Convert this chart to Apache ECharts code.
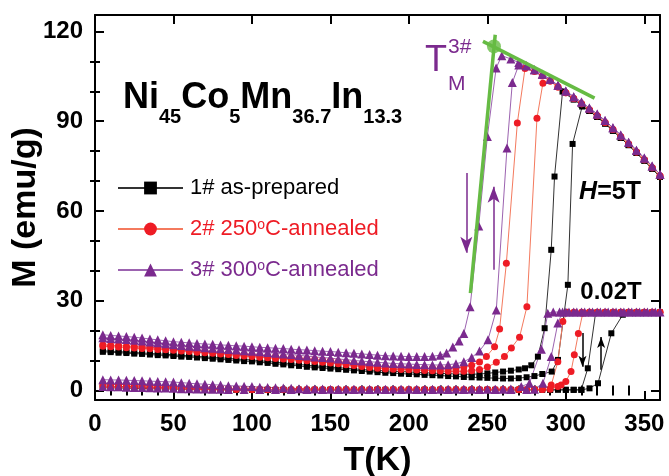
<!DOCTYPE html>
<html><head><meta charset="utf-8">
<script src="https://cdn.jsdelivr.net/npm/echarts@6/dist/echarts.min.js"></script>
<style>html,body{margin:0;padding:0;background:#fff}#c{width:669px;height:476px}</style>
</head><body><div id="c"></div>
<script>
const FONT = "'Liberation Sans', Arial, sans-serif";
const N1 = '1# as-prepared', N2 = '2# 250°C-annealed', N3 = '3# 300°C-annealed';
const X_MAJOR = [0,50,100,150,200,250,300,350];
const X_MINOR = [10,20,30,40,60,70,80,90,110,120,130,140,160,170,180,190,210,220,230,240,260,270,280,290,310,320,330,340];
const Y_MAJOR = [0,30,60,90,120];
const Y_MINOR = [10,20,40,50,70,80,100,110];

// 5 T, sample 1#
const bk5c = [[5,13.3],[10,13.1],[15,13.0],[20,12.8],[25,12.7],[30,12.5],[35,12.4],[40,12.2],[45,12.1],[50,11.9],[55,11.7],[60,11.6],[65,11.4],[70,11.2],[75,11.0],[80,10.9],[85,10.7],[90,10.5],[95,10.3],[100,10.2],[105,9.9],[110,9.7],[115,9.4],[120,9.2],[125,8.9],[130,8.7],[135,8.4],[140,8.2],[145,8.0],[150,7.8],[155,7.6],[160,7.4],[165,7.2],[170,7.0],[175,6.8],[180,6.7],[185,6.5],[190,6.4],[195,6.3],[200,6.2],[205,6.0],[210,5.9],[215,5.8],[220,5.7],[225,5.6],[230,5.5],[235,5.4],[240,5.4],[245,5.5],[250,5.7],[255,6.0],[260,6.3],[265,6.6],[270,7.0],[274,7.4],[278,8.4],[282.2,11.3],[286.5,20.8],[290.7,47],[292.8,71.5],[297.9,99.9],[305,97.2],[310,95.4],[315,93.4],[320,91.4],[325,89.2],[330,86.8],[335,84.4],[340,82.0],[345,79.4],[350,76.8],[355,74.1],[360,71.4]];
const bk5h = [[5,12.9],[10,12.8],[15,12.6],[20,12.5],[25,12.3],[30,12.2],[35,12.0],[40,11.8],[45,11.7],[50,11.5],[55,11.3],[60,11.2],[65,11.0],[70,10.8],[75,10.6],[80,10.4],[85,10.2],[90,10.0],[95,9.8],[100,9.7],[105,9.4],[110,9.2],[115,8.9],[120,8.7],[125,8.4],[130,8.2],[135,7.9],[140,7.7],[145,7.5],[150,7.3],[155,7.1],[160,6.9],[165,6.7],[170,6.5],[175,6.3],[180,6.1],[185,5.9],[190,5.8],[195,5.6],[200,5.5],[205,5.4],[210,5.2],[215,5.1],[220,5.0],[225,4.8],[230,4.7],[235,4.5],[240,4.4],[245,4.3],[250,4.2],[255,4.1],[260,4.0],[265,4.0],[270,4.1],[275,4.4],[280,4.8],[285,5.5],[291,6.3],[295,10.2],[301.3,35.3],[304.3,82.4],[310.4,94.9],[315,93.4],[320,91.4],[325,89.2],[330,86.8],[335,84.4],[340,82.0],[345,79.4],[350,76.8],[355,74.1],[360,71.4]];
// 0.02 T, sample 1#
const bk0c = [[5,1.5],[10,1.4],[15,1.3],[20,1.3],[25,1.2],[30,1.1],[35,1.0],[40,1.0],[45,0.9],[50,0.8],[55,0.8],[60,0.7],[65,0.6],[70,0.6],[75,0.5],[80,0.5],[85,0.4],[90,0.4],[95,0.3],[100,0.3],[105,0.2],[110,0.2],[115,0.2],[120,0.2],[125,0.2],[130,0.2],[135,0.2],[140,0.2],[145,0.2],[150,0.2],[155,0.2],[160,0.2],[165,0.2],[170,0.2],[175,0.2],[180,0.2],[185,0.2],[190,0.2],[195,0.2],[200,0.2],[205,0.2],[210,0.2],[215,0.2],[220,0.2],[225,0.2],[230,0.2],[235,0.2],[240,0.2],[245,0.2],[250,0.2],[255,0.2],[260,0.2],[265,0.2],[270,0.2],[275,0.2],[280,0.2],[285,0.2],[290,0.2],[295,0.2],[300,0.2],[305,0.2],[309.8,0.2],[314,7.4],[319,26.0],[325,26.0],[330,26.0],[335,26.0],[340,26.0],[345,26.0],[350,26.0],[355,26.0],[360,26.0]];
const bk0h = [[5,0.9],[10,0.9],[15,0.8],[20,0.8],[25,0.7],[30,0.7],[35,0.6],[40,0.6],[45,0.5],[50,0.5],[55,0.4],[60,0.4],[65,0.3],[70,0.3],[75,0.3],[80,0.2],[90,0.2],[100,0.2],[110,0.2],[120,0.2],[130,0.2],[140,0.2],[150,0.2],[160,0.2],[170,0.2],[180,0.2],[190,0.2],[200,0.2],[210,0.2],[220,0.2],[230,0.2],[240,0.2],[250,0.2],[260,0.2],[270,0.2],[280,0.2],[290,0.2],[300,0.2],[305,0.2],[310,0.2],[315.1,0.7],[320.5,2.4],[329,19.1],[336.3,25.3],[340,26.0],[345,26.0],[350,26.0],[355,26.0],[360,26.0]];

// 5 T, sample 2#
const rd5c = [[5,15.3],[10,15.1],[15,15.0],[20,14.8],[25,14.7],[30,14.5],[35,14.4],[40,14.2],[45,14.1],[50,13.9],[55,13.7],[60,13.5],[65,13.3],[70,13.1],[75,12.9],[80,12.7],[85,12.5],[90,12.3],[95,12.1],[100,11.9],[105,11.7],[110,11.5],[115,11.3],[120,11.1],[125,10.9],[130,10.7],[135,10.5],[140,10.3],[145,10.1],[150,9.9],[155,9.6],[160,9.3],[165,9.0],[170,8.7],[175,8.4],[180,8.1],[185,7.9],[190,7.8],[195,7.7],[200,7.6],[205,7.5],[210,7.4],[215,7.4],[220,7.4],[225,7.4],[230,7.5],[235,7.8],[240,8.4],[245,9.5],[249.4,11.3],[254.6,14.6],[257.8,20.5],[262.1,42.5],[269.1,89.4],[274,107.6],[280,106.6],[285,105.1],[290,103.4],[295,101.4],[300,99.5],[305,97.6],[310,95.8],[315,93.8],[320,91.8],[325,89.6],[330,87.2],[335,84.8],[340,82.4],[345,79.7],[350,77.1],[355,74.4],[360,71.7]];
const rd5h = [[5,14.8],[10,14.6],[15,14.5],[20,14.3],[25,14.2],[30,14.0],[35,13.9],[40,13.7],[45,13.6],[50,13.4],[55,13.2],[60,13.0],[65,12.8],[70,12.6],[75,12.4],[80,12.2],[85,12.0],[90,11.7],[95,11.5],[100,11.3],[105,11.1],[110,10.9],[115,10.7],[120,10.5],[125,10.3],[130,10.1],[135,9.9],[140,9.7],[145,9.4],[150,9.2],[155,8.9],[160,8.6],[165,8.3],[170,8.0],[175,7.7],[180,7.4],[185,7.2],[190,7.1],[195,7.0],[200,6.9],[205,6.8],[210,6.7],[215,6.6],[220,6.5],[225,6.4],[230,6.4],[235,6.4],[240,6.6],[245,7.0],[250,7.8],[255.7,9.4],[260.9,11.3],[265.3,14.2],[270.5,17.8],[275.2,28],[281.6,91],[285.4,102.7],[290,103.4],[295,101.4],[300,99.5],[305,97.6],[310,95.8],[315,93.8],[320,91.8],[325,89.6],[330,87.2],[335,84.8],[340,82.4],[345,79.7],[350,77.1],[355,74.4],[360,71.7]];
// 0.02 T, sample 2#
const rd0c = [[5,2.2],[10,2.1],[15,2.0],[20,1.9],[25,1.8],[30,1.7],[35,1.6],[40,1.5],[45,1.4],[50,1.3],[55,1.2],[60,1.1],[65,1.0],[70,0.9],[75,0.8],[80,0.7],[85,0.6],[90,0.5],[95,0.5],[100,0.4],[105,0.4],[110,0.3],[115,0.3],[120,0.3],[125,0.3],[130,0.3],[135,0.3],[140,0.3],[145,0.3],[150,0.3],[155,0.3],[160,0.3],[165,0.3],[170,0.3],[175,0.3],[180,0.3],[185,0.3],[190,0.3],[195,0.3],[200,0.3],[205,0.3],[210,0.3],[215,0.3],[220,0.3],[225,0.3],[230,0.3],[235,0.3],[240,0.3],[245,0.3],[250,0.3],[255,0.3],[260,0.3],[265,0.3],[270,0.3],[275,0.3],[280,0.3],[285,0.4],[290.7,1.8],[294.9,9.6],[298.1,23.0],[301,26.1],[305,26.1],[310,26.1],[315,26.1],[320,26.1],[325,26.1],[330,26.1],[335,26.1],[340,26.1],[345,26.1],[350,26.1],[355,26.1],[360,26.1]];
const rd0h = [[5,1.2],[10,1.1],[15,1.1],[20,1.0],[25,1.0],[30,0.9],[35,0.8],[40,0.8],[45,0.7],[50,0.6],[55,0.6],[60,0.5],[65,0.5],[70,0.4],[75,0.4],[80,0.3],[85,0.3],[90,0.3],[95,0.2],[100,0.2],[110,0.2],[120,0.2],[130,0.2],[140,0.2],[150,0.2],[160,0.2],[170,0.2],[180,0.2],[190,0.2],[200,0.2],[210,0.2],[220,0.2],[230,0.2],[240,0.2],[250,0.2],[260,0.2],[270,0.2],[280,0.3],[285,0.3],[290,0.4],[294.9,1.3],[297,1.8],[300,3.0],[303.3,6.3],[305.4,11.9],[308,19],[310.8,25.8],[315,26.1],[320,26.1],[325,26.1],[330,26.1],[335,26.1],[340,26.1],[345,26.1],[350,26.1],[355,26.1],[360,26.1]];

// 5 T, sample 3#
const pp5c = [[5,18.6],[10,18.4],[15,18.2],[20,18.0],[25,17.8],[30,17.5],[35,17.2],[40,16.9],[45,16.6],[50,16.3],[55,16.1],[60,15.9],[65,15.7],[70,15.5],[75,15.4],[80,15.2],[85,15.1],[90,14.9],[95,14.8],[100,14.6],[105,14.4],[110,14.3],[115,14.1],[120,14.0],[125,13.8],[130,13.6],[135,13.5],[140,13.3],[145,13.1],[150,13.0],[155,12.8],[160,12.6],[165,12.4],[170,12.2],[175,12.0],[180,11.8],[185,11.6],[190,11.5],[195,11.4],[200,11.3],[205,11.3],[210,11.3],[215,11.4],[220,11.8],[224,12.5],[228,14.5],[232,16.5],[235,19],[239,28],[244.5,55],[250,84.9],[255.6,107.8],[259.2,111.9],[265,110.8],[270,109.6],[275,108.5],[280,107.2],[285,105.7],[290,104.0],[295,102.0],[300,100.1],[305,98.2],[310,96.4],[315,94.4],[320,92.4],[325,90.2],[330,87.8],[335,85.4],[340,83.0],[345,80.3],[350,77.7],[355,75.0],[360,72.3]];
const pp5h = [[5,17.6],[10,17.4],[15,17.2],[20,17.0],[25,16.8],[30,16.5],[35,16.2],[40,15.9],[45,15.6],[50,15.3],[55,15.0],[60,14.8],[65,14.6],[70,14.3],[75,14.1],[80,13.9],[85,13.7],[90,13.5],[95,13.3],[100,13.1],[105,12.9],[110,12.7],[115,12.4],[120,12.2],[125,12.0],[130,11.7],[135,11.5],[140,11.2],[145,11.0],[150,10.8],[155,10.5],[160,10.3],[165,10.0],[170,9.8],[175,9.6],[180,9.4],[185,9.2],[190,9.0],[195,8.9],[200,8.8],[205,8.7],[210,8.6],[215,8.5],[220,8.5],[225,8.6],[230,8.9],[235,9.6],[240,11.0],[245,13.2],[250.4,16.9],[255.7,26.9],[262.5,81],[265.9,102.9],[270,108.8],[275,108.5],[280,107.2],[285,105.7],[290,104.0],[295,102.0],[300,100.1],[305,98.2],[310,96.4],[315,94.4],[320,92.4],[325,90.2],[330,87.8],[335,85.4],[340,83.0],[345,80.3],[350,77.7],[355,75.0],[360,72.3]];
// 0.02 T, sample 3#
const pp0c = [[5,3.6],[10,3.5],[15,3.5],[20,3.4],[25,3.3],[30,3.2],[35,3.1],[40,3.0],[45,2.9],[50,2.8],[55,2.6],[60,2.4],[65,2.2],[70,2.1],[75,1.9],[80,1.8],[85,1.6],[90,1.5],[95,1.4],[100,1.3],[105,1.1],[110,1.0],[115,0.9],[120,0.8],[125,0.7],[130,0.6],[135,0.6],[140,0.5],[145,0.5],[150,0.4],[155,0.4],[160,0.4],[165,0.4],[170,0.4],[175,0.4],[180,0.4],[185,0.4],[190,0.4],[195,0.4],[200,0.4],[205,0.4],[210,0.4],[215,0.4],[220,0.4],[225,0.4],[230,0.4],[235,0.4],[240,0.4],[245,0.4],[250,0.4],[255,0.4],[260,0.4],[265,0.5],[271.6,1.3],[276.8,2.4],[284.4,13.8],[288.5,25.8],[292,26.2],[296,26.2],[300,26.2],[305,26.2],[310,26.2],[315,26.2],[320,26.2],[325,26.2],[330,26.2],[335,26.2],[340,26.2],[345,26.2],[350,26.2],[355,26.2],[360,26.2]];
const pp0h = [[5,1.3],[10,1.2],[15,1.2],[20,1.1],[25,1.0],[30,1.0],[35,0.9],[40,0.8],[45,0.8],[50,0.7],[55,0.6],[60,0.6],[65,0.5],[70,0.5],[75,0.4],[80,0.4],[85,0.3],[95,0.3],[105,0.3],[115,0.3],[125,0.3],[135,0.3],[145,0.3],[155,0.3],[165,0.3],[175,0.3],[185,0.3],[195,0.3],[205,0.3],[215,0.3],[225,0.3],[235,0.3],[245,0.3],[255,0.3],[265,0.3],[275,0.3],[280,0.4],[285.4,2.4],[290.7,11.3],[294.9,22.5],[297.9,26.2],[302,26.2],[307,26.2],[312,26.2],[317,26.2],[322,26.2],[327,26.2],[332,26.2],[337,26.2],[342,26.2],[347,26.2],[352,26.2],[357,26.2]];

// guide lines and the T_M point for sample 3#
const GREEN_STEEP = [[239.2,32.5],[255,118.9]];
const GREEN_TAN = [[247.2,116.7],[318.3,97.7]];
const TM_POINT = [[254.2,115]];
// hysteresis arrows [from, to]
const ARROW_P_DOWN = [[236.6,72.7],[236.6,46.0]];
const ARROW_P_UP = [[254.0,40.3],[254.0,68.1]];
const ARROW_K_DOWN = [[310.6,19.2],[310.6,7.9]];
const ARROW_K_UP = [[322.5,6.9],[322.5,17.9]];

const BLACK = '#000000', BLACK_L = '#333333';
const RED = '#ee1c25', RED_L = '#f47a5e';
const PURPLE = '#7b2a8e', PURPLE_L = '#9c63b0';
const GREEN = '#66bb44';

function mk(name, data, symbol, size, color, lineColor) {
  return { type:'line', name, data, symbol, symbolSize:size, showAllSymbol:true,
    itemStyle:{color}, lineStyle:{color:lineColor, width:1}, xAxisIndex:0, yAxisIndex:0,
    animation:false, z:2 };
}

const series = [
  mk(N1, bk5c, 'rect', 6, BLACK, BLACK_L), mk(N1, bk5h, 'rect', 6, BLACK, BLACK_L),
  mk(N1, bk0c, 'rect', 6, BLACK, BLACK_L), mk(N1, bk0h, 'rect', 6, BLACK, BLACK_L),
  mk(N2, rd5c, 'circle', 7, RED, RED_L), mk(N2, rd5h, 'circle', 7, RED, RED_L),
  mk(N2, rd0c, 'circle', 7, RED, RED_L), mk(N2, rd0h, 'circle', 7, RED, RED_L),
  mk(N3, pp5c, 'triangle', 9, PURPLE, PURPLE_L), mk(N3, pp5h, 'triangle', 9, PURPLE, PURPLE_L),
  mk(N3, pp0c, 'triangle', 9, PURPLE, PURPLE_L), mk(N3, pp0h, 'triangle', 9, PURPLE, PURPLE_L),
  { type:'line', name:'g1', data:GREEN_STEEP, symbol:'none', lineStyle:{color:GREEN, width:3.5}, animation:false, z:5 },
  { type:'line', name:'g2', data:GREEN_TAN, symbol:'none', lineStyle:{color:GREEN, width:3.5}, animation:false, z:5 },
  { type:'scatter', name:'tm', data:TM_POINT, symbol:'circle', symbolSize:14, itemStyle:{color:GREEN}, animation:false, z:6,
    markLine:{ silent:true, animation:false, label:{show:false}, symbolSize:[8,14],
      lineStyle:{type:'solid', width:1.5},
      data:[
        [{coord:ARROW_P_DOWN[0], symbol:'none', lineStyle:{color:PURPLE, type:'solid'}}, {coord:ARROW_P_DOWN[1], symbol:'arrow', symbolSize:[9,16]}],
        [{coord:ARROW_P_UP[0], symbol:'none', lineStyle:{color:PURPLE, type:'solid'}}, {coord:ARROW_P_UP[1], symbol:'arrow', symbolSize:[9,16]}],
        [{coord:ARROW_K_DOWN[0], symbol:'none', lineStyle:{color:BLACK, type:'solid'}}, {coord:ARROW_K_DOWN[1], symbol:'arrow', symbolSize:[6,11]}],
        [{coord:ARROW_K_UP[0], symbol:'none', lineStyle:{color:BLACK, type:'solid'}}, {coord:ARROW_K_UP[1], symbol:'arrow', symbolSize:[6,11]}]
      ] } }
];

const lbl = {fontFamily:FONT, fontWeight:'bold', fontSize:24, color:'#000'};
const frame = {show:true, onZero:false, lineStyle:{color:'#000', width:2}};
function xa(pos, major) {
  return {type:'value', min:0, max:360, position:pos,
    axisLine: major ? frame : {show:false},
    axisTick:{show:true, inside:true, length: major ? 9 : 5, customValues: major ? X_MAJOR : X_MINOR, lineStyle:{color:'#000', width:2}},
    axisLabel:{show: major && pos==='bottom', customValues:X_MAJOR, margin:12, ...lbl},
    splitLine:{show:false},
    name: (major && pos==='bottom') ? 'T(K)' : '', nameLocation:'middle', nameGap:44,
    nameTextStyle:{fontFamily:FONT, fontWeight:'bold', fontSize:34, color:'#000'}};
}
function ya(pos, major) {
  return {type:'value', min:-3.2, max:125.5, position:pos,
    axisLine: major ? frame : {show:false},
    axisTick:{show:true, inside:true, length: major ? 9 : 5, customValues: major ? Y_MAJOR : Y_MINOR, lineStyle:{color:'#000', width:2}},
    axisLabel:{show: major && pos==='left', customValues:Y_MAJOR, margin:12, ...lbl},
    splitLine:{show:false},
    name: (major && pos==='left') ? 'M (emu/g)' : '', nameLocation:'middle', nameGap:52, nameMoveOverlap:false,
    nameTextStyle:{fontFamily:FONT, fontWeight:'bold', fontSize:34, color:'#000'}};
}

const option = {
  backgroundColor:'#fff', animation:false,
  grid:{left:95, right:9, top:15, bottom:76, containLabel:false, outerBoundsMode:'none'},
  xAxis:[xa('bottom',true), xa('bottom',false), xa('top',true), xa('top',false)],
  yAxis:[ya('left',true), ya('left',false), ya('right',true), ya('right',false)],
  legend:{ show:true, orient:'vertical', left:112, top:172, itemWidth:65, itemHeight:16, itemGap:19,
    selectedMode:false,
    data:[{name:N1, textStyle:{color:BLACK}}, {name:N2, textStyle:{color:RED}}, {name:N3, textStyle:{color:PURPLE}}],
    formatter: n => n.replace('°', '{sup|o}'),
    textStyle:{fontFamily:FONT, fontSize:22, padding:[0,0,0,2],
      rich:{sup:{fontFamily:FONT, fontSize:14, verticalAlign:'top'}}} },
  series,
  graphic:[
    {type:'text', left:123, top:80, z:10, style:{
      text:'{m|Ni}{s|45}{m|Co}{s|5}{m|Mn}{s|36.7}{m|In}{s|13.3}',
      rich:{ m:{fontFamily:FONT, fontWeight:'bold', fontSize:36, lineHeight:36, verticalAlign:'top', fill:'#000'},
             s:{fontFamily:FONT, fontWeight:'bold', fontSize:20, padding:[27,0,0,0], verticalAlign:'top', fill:'#000'} } }},
    {type:'text', x:425, y:60.6, z:10, style:{text:'T', fontFamily:FONT, fontSize:36, fill:PURPLE, verticalAlign:'middle'}},
    {type:'text', x:448, y:47, z:10, style:{text:'3#', fontFamily:FONT, fontSize:21, fill:PURPLE, verticalAlign:'middle'}},
    {type:'text', x:448, y:84.5, z:10, style:{text:'M', fontFamily:FONT, fontSize:21, fill:PURPLE, verticalAlign:'middle'}},
    {type:'text', x:610, y:192, z:10, style:{text:'{i|H}=5T', fontFamily:FONT, fontWeight:'bold', fontSize:25, fill:'#000', align:'center', verticalAlign:'middle',
      rich:{i:{fontFamily:FONT, fontWeight:'bold', fontStyle:'italic', fontSize:25, fill:'#000'}}}},
    {type:'text', x:611, y:292, z:10, style:{text:'0.02T', fontFamily:FONT, fontWeight:'bold', fontSize:24, fill:'#000', align:'center', verticalAlign:'middle'}}
  ]
};
const chart = echarts.init(document.getElementById('c'), null, {renderer:'canvas'});
chart.setOption(option);
</script></body></html>
